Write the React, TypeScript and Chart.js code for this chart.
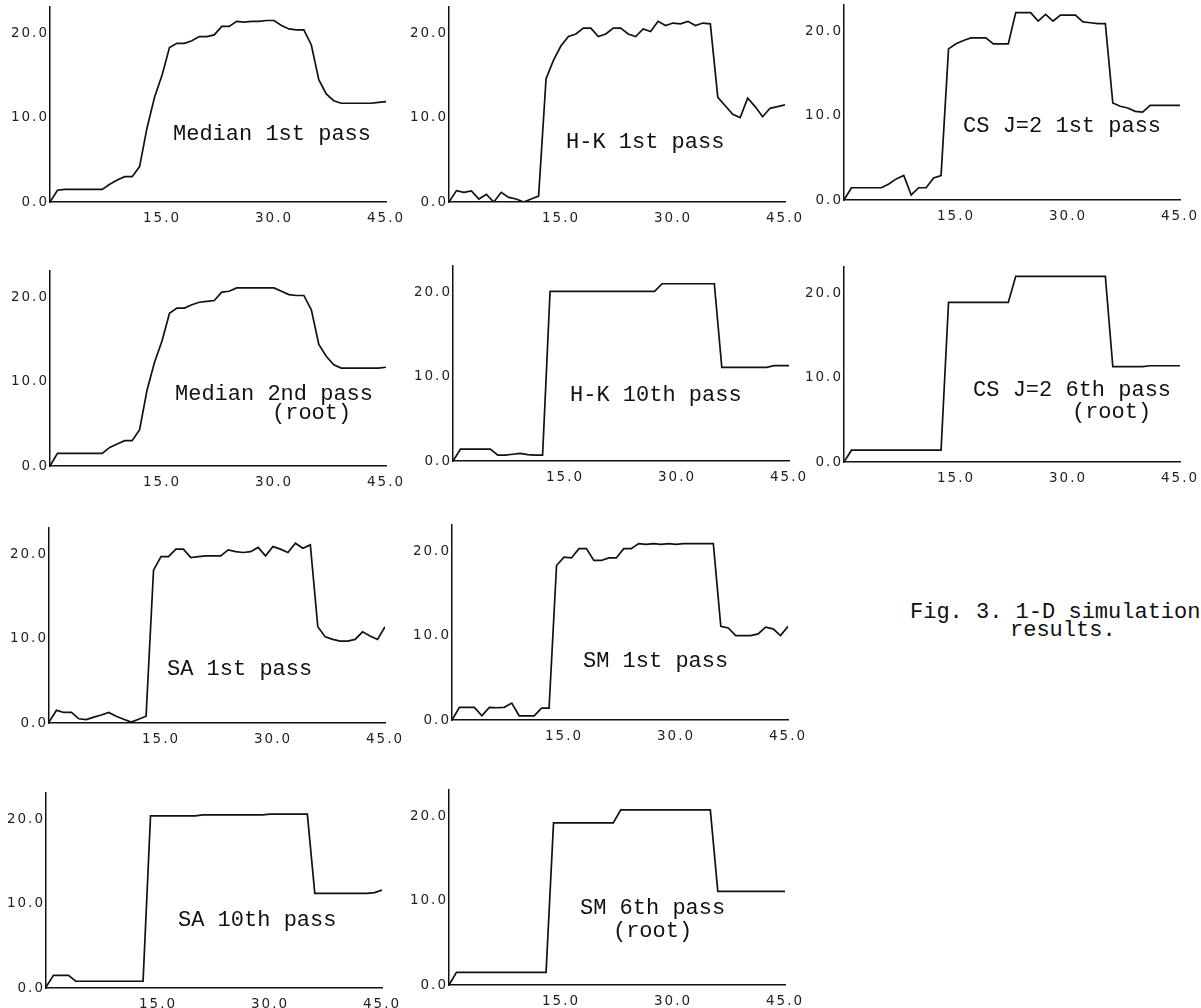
import React, { useEffect, useRef } from 'react';
import { Chart, registerables } from 'chart.js';

Chart.register(...registerables);

// ---------- data ----------
const xSamples = [
  0, 1, 2, 3, 4, 5, 6, 7, 8, 9, 10, 11, 12, 13, 14, 15, 16, 17, 18, 19, 20, 21, 22,
  23, 24, 25, 26, 27, 28, 29, 30, 31, 32, 33, 34, 35, 36, 37, 38, 39, 40, 41, 42, 43, 44, 45,
];
const xTickValues = [15, 30, 45];
const yTickValues = [0, 10, 20];
const xMin = 0;
const xMax = 45;
const yMin = 0;
const yMax = 23.1;

const medianFirstPass = [
  0, 1.4, 1.5, 1.5, 1.5, 1.5, 1.5, 1.5, 2.1, 2.6, 3.0, 3.0, 4.2, 8.8, 12.4, 15.0,
  18.3, 18.8, 18.8, 19.1, 19.6, 19.6, 19.8, 20.8, 20.8, 21.4, 21.3, 21.4, 21.4, 21.5,
  21.5, 20.9, 20.5, 20.4, 20.4, 18.6, 14.5, 12.8, 12.0, 11.7, 11.7, 11.7, 11.7, 11.7, 11.8, 11.9,
];
const hkFirstPass = [
  0, 1.35, 1.15, 1.3, 0.35, 0.9, 0, 1.15, 0.55, 0.35, 0, 0.35, 0.7, 14.6, 16.8, 18.5,
  19.6, 19.9, 20.6, 20.6, 19.6, 19.9, 20.6, 20.6, 19.9, 19.6, 20.5, 20.2, 21.4, 20.9,
  21.2, 21.1, 21.4, 20.9, 21.2, 21.1, 12.4, 11.4, 10.4, 10.0, 12.3, 11.3, 10.1, 11.1, 11.3, 11.5,
];
const csFirstPass = [
  0, 1.45, 1.45, 1.45, 1.45, 1.45, 1.9, 2.5, 2.9, 0.6, 1.45, 1.45, 2.6, 2.9, 17.9, 18.5,
  18.9, 19.2, 19.2, 19.2, 18.5, 18.5, 18.5, 22.2, 22.2, 22.2, 21.2, 22.0, 21.2, 21.9,
  21.9, 21.9, 21.1, 21.0, 20.9, 20.9, 11.5, 11.1, 10.9, 10.5, 10.4, 11.2, 11.2, 11.2, 11.2, 11.2,
];
const medianSecondPass = [
  0, 1.5, 1.5, 1.5, 1.5, 1.5, 1.5, 1.5, 2.2, 2.6, 3.0, 3.0, 4.3, 9.0, 12.3, 14.8,
  18.1, 18.7, 18.7, 19.1, 19.4, 19.5, 19.6, 20.6, 20.7, 21.1, 21.1, 21.1, 21.1, 21.1,
  21.1, 20.7, 20.3, 20.2, 20.2, 18.5, 14.4, 13.0, 12.0, 11.6, 11.6, 11.6, 11.6, 11.6, 11.6, 11.7,
];
const hkTenthPass = [
  0, 1.4, 1.4, 1.4, 1.4, 1.4, 0.7, 0.7, 0.8, 0.9, 0.75, 0.7, 0.7, 20.1, 20.1, 20.1,
  20.1, 20.1, 20.1, 20.1, 20.1, 20.1, 20.1, 20.1, 20.1, 20.1, 20.1, 20.1, 21.0, 21.0,
  21.0, 21.0, 21.0, 21.0, 21.0, 21.0, 11.1, 11.1, 11.1, 11.1, 11.1, 11.1, 11.1, 11.3, 11.3, 11.3,
];
const csSixthPass = [
  0, 1.4, 1.4, 1.4, 1.4, 1.4, 1.4, 1.4, 1.4, 1.4, 1.4, 1.4, 1.4, 1.4, 18.9, 18.9,
  18.9, 18.9, 18.9, 18.9, 18.9, 18.9, 18.9, 22.0, 22.0, 22.0, 22.0, 22.0, 22.0, 22.0,
  22.0, 22.0, 22.0, 22.0, 22.0, 22.0, 11.3, 11.3, 11.3, 11.3, 11.3, 11.4, 11.4, 11.4, 11.4, 11.4,
];
const saFirstPass = [
  0.1, 1.5, 1.25, 1.25, 0.5, 0.4, 0.7, 0.95, 1.25, 0.8, 0.45, 0.1, 0.45, 0.8, 18.1, 19.7,
  19.7, 20.6, 20.6, 19.6, 19.7, 19.8, 19.8, 19.8, 20.5, 20.3, 20.2, 20.3, 20.8, 19.8,
  20.9, 20.6, 20.2, 21.3, 20.7, 21.1, 11.4, 10.2, 9.9, 9.7, 9.7, 9.9, 10.8, 10.3, 9.9, 11.4,
];
const smFirstPass = [
  0, 1.5, 1.5, 1.5, 0.5, 1.5, 1.45, 1.5, 2.0, 0.5, 0.5, 0.5, 1.4, 1.4, 18.3, 19.3,
  19.2, 20.3, 20.3, 18.9, 18.9, 19.2, 19.2, 20.3, 20.3, 20.9, 20.8, 20.9, 20.8, 20.9,
  20.8, 20.9, 20.9, 20.9, 20.9, 20.9, 11.1, 10.9, 10.0, 10.0, 10.0, 10.2, 11.0, 10.8, 10.0, 11.1,
];
const saTenthPass = [
  0.1, 1.5, 1.5, 1.5, 0.8, 0.8, 0.8, 0.8, 0.8, 0.8, 0.8, 0.8, 0.8, 0.8, 20.4, 20.4,
  20.4, 20.4, 20.4, 20.4, 20.4, 20.5, 20.5, 20.5, 20.5, 20.5, 20.5, 20.5, 20.5, 20.5,
  20.6, 20.6, 20.6, 20.6, 20.6, 20.6, 11.2, 11.2, 11.2, 11.2, 11.2, 11.2, 11.2, 11.2, 11.3, 11.6,
];
const smSixthPass = [
  0, 1.5, 1.5, 1.5, 1.5, 1.5, 1.5, 1.5, 1.5, 1.5, 1.5, 1.5, 1.5, 1.5, 19.2, 19.2,
  19.2, 19.2, 19.2, 19.2, 19.2, 19.2, 19.2, 20.75, 20.75, 20.75, 20.75, 20.75, 20.75, 20.75,
  20.75, 20.75, 20.75, 20.75, 20.75, 20.75, 11.1, 11.1, 11.1, 11.1, 11.1, 11.1, 11.1, 11.1, 11.1, 11.1,
];

const captionLines = ['Fig. 3. 1-D simulation', 'results.'];

// ---------- layout ----------
const AXIS_W = 50;
const PAD_T = 6;
const PAD_R = 24;
const AXIS_H = 28;
const PLOT_W = 336;
const PLOT_H = 195;

type LabelLine = { text: string; x: number; y: number };
type PanelSpec = { series: number[]; labels: LabelLine[]; left: number; bottom: number };

const panels: PanelSpec[] = [
  { series: medianFirstPass, labels: [{ text: 'Median 1st pass', x: 16.47, y: 7.35 }], left: 50, bottom: 202 },
  { series: hkFirstPass, labels: [{ text: 'H-K 1st pass', x: 15.67, y: 6.4 }], left: 449, bottom: 202 },
  { series: csFirstPass, labels: [{ text: 'CS J=2 1st pass', x: 15.94, y: 8.06 }], left: 844, bottom: 200 },
  {
    series: medianSecondPass,
    labels: [
      { text: 'Median 2nd pass', x: 16.74, y: 7.82 },
      { text: '(root)', x: 29.73, y: 5.57 },
    ],
    left: 50,
    bottom: 466,
  },
  { series: hkTenthPass, labels: [{ text: 'H-K 10th pass', x: 15.67, y: 7.11 }], left: 453, bottom: 461 },
  {
    series: csSixthPass,
    labels: [
      { text: 'CS J=2 6th pass', x: 17.28, y: 7.82 },
      { text: '(root)', x: 30.53, y: 5.21 },
    ],
    left: 844,
    bottom: 462,
  },
  { series: saFirstPass, labels: [{ text: 'SA 1st pass', x: 15.8, y: 5.69 }], left: 49, bottom: 723 },
  { series: smFirstPass, labels: [{ text: 'SM 1st pass', x: 17.54, y: 6.28 }], left: 452, bottom: 720 },
  { series: saTenthPass, labels: [{ text: 'SA 10th pass', x: 17.68, y: 7.35 }], left: 46, bottom: 988 },
  {
    series: smSixthPass,
    labels: [
      { text: 'SM 6th pass', x: 17.54, y: 8.41 },
      { text: '(root)', x: 21.96, y: 5.69 },
    ],
    left: 449,
    bottom: 985,
  },
];

const TICK_FONT = { family: '"DejaVu Sans", sans-serif', size: 13.5 };
const LABEL_FONT = '22px "Liberation Mono", monospace';

const panelLabelPlugin = {
  id: 'panelLabel',
  beforeDraw(chart: any) {
    chart.ctx.letterSpacing = '2px';
  },
  afterDraw(chart: any, _args: any, opts: any) {
    const ctx = chart.ctx;
    ctx.save();
    ctx.letterSpacing = '0px';
    ctx.font = LABEL_FONT;
    ctx.fillStyle = '#111';
    ctx.textAlign = 'left';
    ctx.textBaseline = 'alphabetic';
    const lines: LabelLine[] = (opts && opts.lines) || [];
    for (const l of lines) {
      const px = chart.scales.x.getPixelForValue(l.x);
      const py = chart.scales.y.getPixelForValue(l.y);
      ctx.fillText(l.text, px, py);
    }
    ctx.restore();
    ctx.letterSpacing = '0px';
  },
};

function PanelChart({ spec }: { spec: PanelSpec }) {
  const ref = useRef<HTMLCanvasElement | null>(null);
  const width = AXIS_W + PLOT_W + PAD_R;
  const height = PAD_T + PLOT_H + AXIS_H;

  useEffect(() => {
    if (!ref.current) return;
    const chart = new Chart(ref.current, {
      type: 'line',
      data: {
        datasets: [
          {
            data: xSamples.map((x, i) => ({ x, y: spec.series[i] })),
            borderColor: '#111',
            borderWidth: 1.7,
            pointRadius: 0,
            tension: 0,
            fill: false,
          },
        ],
      },
      options: {
        animation: false,
        responsive: false,
        maintainAspectRatio: false,
        devicePixelRatio: 1,
        layout: { padding: { left: 0, top: PAD_T, right: PAD_R, bottom: 0 } },
        plugins: {
          legend: { display: false },
          tooltip: { enabled: false },
          panelLabel: { lines: spec.labels },
        } as any,
        scales: {
          x: {
            type: 'linear',
            min: xMin,
            max: xMax,
            afterBuildTicks: (s: any) => {
              s.ticks = xTickValues.map((v) => ({ value: v }));
            },
            afterFit: (s: any) => {
              s.height = AXIS_H;
              s.paddingLeft = 0;
              s.paddingRight = 0;
            },
            ticks: {
              autoSkip: false,
              maxRotation: 0,
              padding: 8,
              color: '#222',
              font: TICK_FONT,
              callback: (v: any) => Number(v).toFixed(1),
            },
            grid: { display: false, drawTicks: false },
            border: { display: true, color: '#111', width: 1.5 },
          },
          y: {
            type: 'linear',
            min: yMin,
            max: yMax,
            afterBuildTicks: (s: any) => {
              s.ticks = yTickValues.map((v) => ({ value: v }));
            },
            afterFit: (s: any) => {
              s.width = AXIS_W;
              s.paddingTop = 0;
              s.paddingBottom = 0;
            },
            ticks: {
              padding: 1,
              color: '#222',
              font: TICK_FONT,
              callback: (v: any) => Number(v).toFixed(1),
            },
            grid: { display: false, drawTicks: false },
            border: { display: true, color: '#111', width: 1.5 },
          },
        },
      } as any,
      plugins: [panelLabelPlugin],
    });
    return () => chart.destroy();
  }, [spec]);

  return (
    <canvas
      ref={ref}
      width={width}
      height={height}
      style={{
        position: 'absolute',
        left: spec.left - AXIS_W,
        top: spec.bottom - PLOT_H - PAD_T,
        width,
        height,
      }}
    />
  );
}

export default function App() {
  return (
    <div
      style={{
        position: 'fixed',
        left: 0,
        top: 0,
        width: 1201,
        height: 1008,
        overflow: 'hidden',
        background: '#fff',
      }}
    >
      {panels.map((p, i) => (
        <PanelChart key={i} spec={p} />
      ))}
      <div
        style={{
          position: 'absolute',
          left: 910,
          top: 604,
          font: LABEL_FONT,
          lineHeight: '18px',
          whiteSpace: 'pre',
          color: '#111',
        }}
      >
        {captionLines[0]}
      </div>
      <div
        style={{
          position: 'absolute',
          left: 1010,
          top: 622,
          font: LABEL_FONT,
          lineHeight: '18px',
          whiteSpace: 'pre',
          color: '#111',
        }}
      >
        {captionLines[1]}
      </div>
    </div>
  );
}
